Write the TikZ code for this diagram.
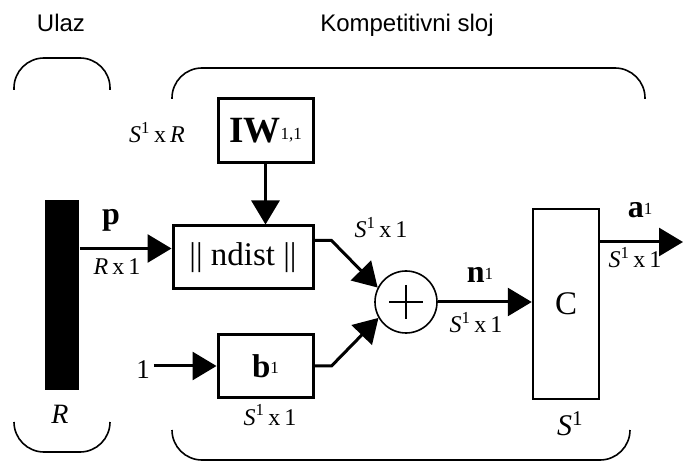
\documentclass[tikz,border=0pt]{standalone}
\usepackage{fontspec}
\setmainfont{Liberation Serif}
\setsansfont{Liberation Sans}
\usetikzlibrary{arrows.meta, positioning}
\newcommand{\dimS}{\textit{S}\textsuperscript{1}}
\newcommand{\lowsup}[1]{\raisebox{0.25ex}{\fontsize{17}{17}\selectfont\mdseries #1}}

\begin{document}
\begin{tikzpicture}[x=1pt, y=-1pt, line width=1.5pt,
  brk/.style={line width=1.6pt, rounded corners=30pt},
  blk/.style={draw, line width=3pt, inner sep=0pt, font=\fontsize{33}{35}\selectfont},
  sumnode/.style={draw, circle, line width=1.6pt, minimum size=62pt, inner sep=0pt},
  arr/.style={line width=3pt, -{Triangle[length=24pt, width=28pt]}},
  hd/.style={font=\sffamily\fontsize{24}{26}\selectfont, inner sep=0pt, anchor=base},
  dimlab/.style={font=\fontsize{24}{26}\selectfont, inner sep=0pt, anchor=base},
  vec/.style={font=\bfseries\fontsize{32}{34}\selectfont, inner sep=0pt, anchor=base},
]
  \useasboundingbox (0,0) rectangle (683,462);
  \node[hd] (ulaz) at (61,32) {Ulaz};
  \node[hd] (komp) at (407,32) {Kompetitivni sloj};
  \draw[brk] (14,90) -- (14,58) -- (110,58) -- (110,90);
  \draw[brk] (14,422) -- (14,452) -- (110,452) -- (110,422);
  \draw[brk] (172,99) -- (172,68) -- (645,68) -- (645,99);
  \draw[brk] (172,430) -- (172,460) -- (630,460) -- (630,430);

  \node[fill, minimum width=34pt, minimum height=190pt, inner sep=0pt] (bar) at (62,295) {};
  \node[blk, minimum width=95pt, minimum height=64pt] (iw) at (265.5,131) {{\fontsize{37}{39}\selectfont\textbf{IW}}\lowsup{1,1}};
  \node[blk, minimum width=140pt, minimum height=63pt] (ndist) at (243,257.5) {|| ndist ||};
  \node[blk, minimum width=95pt, minimum height=62pt] (bias) at (265.5,366) {\textbf{b}\lowsup{1}};
  \node[sumnode] (sum) at (406,302) {};
  \node[blk, line width=2.5pt, minimum width=66pt, minimum height=190pt] (comp) at (566,304) {C};
  \node[font=\fontsize{27}{29}\selectfont, anchor=base] (one) at (143,378) {1};
  \draw[line width=1.6pt] ([xshift=-17pt]sum.center) -- ([xshift=17pt]sum.center)
    ([yshift=17pt]sum.center) -- ([yshift=-17pt]sum.center);

  \coordinate (pin) at ([yshift=9pt]ndist.west);
  \coordinate (nout) at ([yshift=17pt]ndist.east);
  \coordinate (aout) at (683,242);
  \draw[arr] (pin -| bar.east) -- (pin);
  \draw[arr] (iw.south) -- (iw.south |- ndist.north);
  \draw[arr] (nout) -- ++(17,0) -- (sum.153);
  \draw[arr] (bias.east) -- ++(17,0) -- (sum.210);
  \draw[arr] (bias.west -| one.east) -- (bias.west);
  \draw[arr] (sum.east) -- (sum.east -| comp.west);
  \draw[arr] (aout -| comp.east) -- (aout);

  \node[vec] (plab) at (111,225) {p};
  \node[dimlab] (pdim) at (117,275) {\textit{R}\,x\,1};
  \node[dimlab] (iwdim) at (157,143) {\dimS\,x\,\textit{R}};
  \node[dimlab] (nddim) at (381,238) {\dimS\,x\,1};
  \node[vec] (nlab) at (480,283) {n\lowsup{1}};
  \node[dimlab] (ndim) at (476,333) {\dimS\,x\,1};
  \node[dimlab, font=\fontsize{30}{32}\selectfont] (cdim) at (570,435) {\textit{S}\textsuperscript{1}};
  \node[vec] (alab) at (640,218) {a\lowsup{1}};
  \node[dimlab] (adim) at (635,268) {\dimS\,x\,1};
  \node[dimlab] (bdim) at (270,425) {\dimS\,x\,1};
  \node[dimlab, font=\fontsize{28}{30}\selectfont] (rdim) at (60,423) {\textit{R}};
\end{tikzpicture}
\end{document}
